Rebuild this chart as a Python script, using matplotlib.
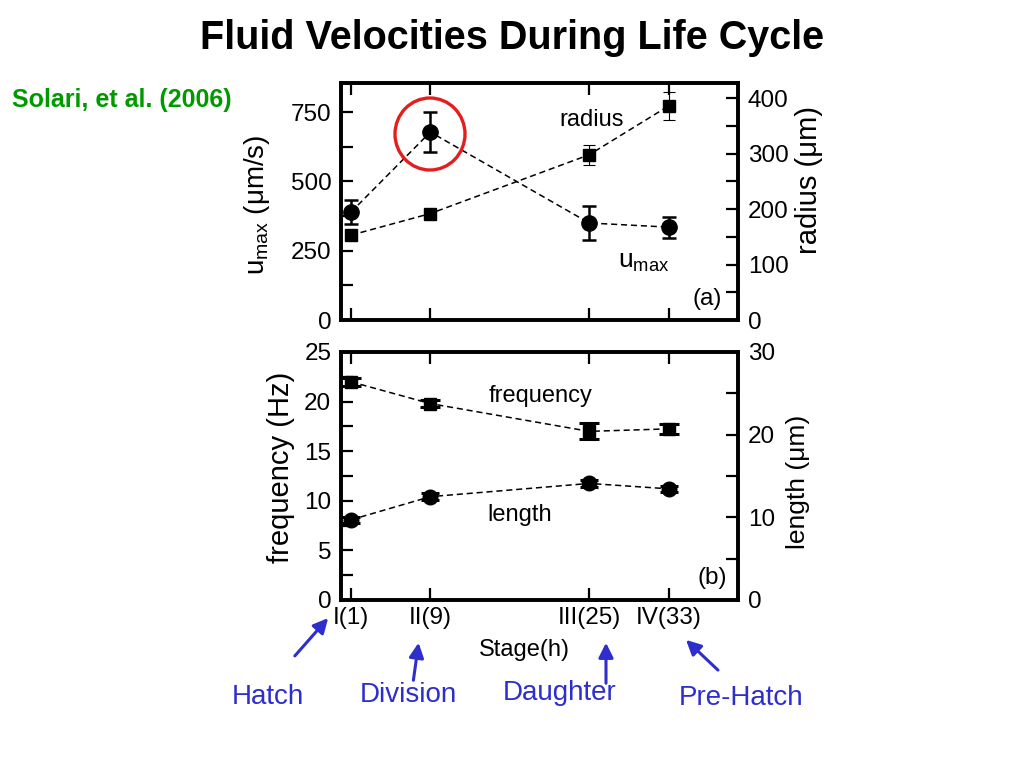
import matplotlib
matplotlib.use("Agg")
import matplotlib.pyplot as plt
from matplotlib.patches import Ellipse, FancyArrowPatch
from matplotlib.ticker import FixedLocator, MultipleLocator

plt.rcParams['font.family'] = ['Liberation Sans', 'DejaVu Sans']
plt.rcParams['mathtext.fontset'] = 'custom'
plt.rcParams['mathtext.rm'] = 'Liberation Sans'
plt.rcParams['mathtext.it'] = 'Liberation Sans:italic'

# ---- data ----
stage_hours = [1, 9, 25, 33]
stage_labels = ['I(1)', 'II(9)', 'III(25)', 'IV(33)']

umax = [389, 678, 350, 335]
umax_err = [43, 73, 60, 38]
radius = [153, 192, 298, 386]
radius_err = [0, 0, 18, 25]

frequency = [22.0, 19.8, 17.0, 17.25]
frequency_err = [0.4, 0.35, 0.8, 0.5]
length = [9.7, 12.5, 14.1, 13.45]
length_err = [0.35, 0.4, 0.45, 0.4]

annot_labels = ['Hatch', 'Division', 'Daughter', 'Pre-Hatch']

W, H = 1024, 768
def fx(x): return x / W
def fy(y): return 1 - y / H

fig = plt.figure(figsize=(10.24, 7.68), dpi=100)

L, R = 341, 738
axA = fig.add_axes([fx(L), fy(320), (R - L) / W, (320 - 83) / H])
axB = fig.add_axes([fx(L), fy(600), (R - L) / W, (600 - 352) / H])

tick_fs = 17.5
def style(ax):
    for s in ax.spines.values():
        s.set_linewidth(2.6)
    ax.tick_params(which='both', direction='in', length=8.5, width=1.6,
                   labelsize=tick_fs, pad=7, top=True)

dash = (0, (4, 2.5))

# ---- panel (a) ----
axA2 = axA.twinx()
for ax in (axA, axA2):
    style(ax)
axA.set_xlim(0, 40)
axA.set_ylim(0, 855)
axA2.set_ylim(0, 427.5)
axA.xaxis.set_major_locator(FixedLocator(stage_hours))
axA.set_xticklabels([])
axA.yaxis.set_major_locator(FixedLocator([0, 250, 500, 750]))
axA.yaxis.set_minor_locator(FixedLocator([125, 375, 625]))
axA2.yaxis.set_major_locator(FixedLocator([0, 100, 200, 300, 400]))
axA2.yaxis.set_minor_locator(FixedLocator([50, 150, 250, 350]))
axA.tick_params(axis='x', which='both', top=True, bottom=True)

axA.errorbar(stage_hours, umax, yerr=umax_err, fmt='o', color='black',
             ms=11, capsize=5, elinewidth=1.8, capthick=1.8, ls=dash, lw=1.1)
axA2.errorbar(stage_hours, radius, yerr=radius_err, fmt='s', color='black',
              ms=8.5, capsize=4.5, elinewidth=0.8, capthick=0.8, ls=dash, lw=1.1)

axA.set_ylabel(r'$\mathrm{u}_{\mathrm{max}}$ (μm/s)', fontsize=20)
axA.yaxis.set_label_coords((272 - L) / (R - L), (320 - 205) / (320 - 83))
axA2.set_ylabel('radius (μm)', fontsize=21)
axA2.yaxis.set_label_coords((795 - L) / (R - L), (320 - 180) / (320 - 83))

# ---- panel (b) ----
axB2 = axB.twinx()
for ax in (axB, axB2):
    style(ax)
axB.set_xlim(0, 40)
axB.set_ylim(0, 25)
axB2.set_ylim(0, 30)
axB.xaxis.set_major_locator(FixedLocator(stage_hours))
axB.set_xticklabels(stage_labels)
axB.tick_params(axis='x', which='both', top=True, bottom=True, pad=5)
axB.yaxis.set_major_locator(MultipleLocator(5))
axB.yaxis.set_minor_locator(MultipleLocator(2.5))
axB2.yaxis.set_major_locator(MultipleLocator(10))
axB2.yaxis.set_minor_locator(MultipleLocator(5))

axB.errorbar(stage_hours, frequency, yerr=frequency_err, fmt='s', color='black',
             ms=9, capsize=7, elinewidth=2.2, capthick=2.2, ls=dash, lw=1.1)
axB2.errorbar(stage_hours, length, yerr=length_err, fmt='o', color='black',
              ms=10.5, capsize=6.5, elinewidth=2.2, capthick=2.2, ls=dash, lw=1.1)

axB.set_ylabel('frequency (Hz)', fontsize=21)
axB.yaxis.set_label_coords((295 - L) / (R - L), (600 - 467) / (600 - 352))
axB2.set_ylabel('length (μm)', fontsize=19)
axB2.yaxis.set_label_coords((786 - L) / (R - L), (600 - 482) / (600 - 352))
axB.set_xlabel('Stage(h)', fontsize=17)
axB.xaxis.set_label_coords((524 - L) / (R - L), (600 - 639) / (600 - 352))

# ---- in-plot labels ----
fig.text(fx(592), fy(120), 'radius', fontsize=17, ha='center', va='center')
fig.text(fx(644), fy(262), r'$\mathrm{u}_{\mathrm{max}}$', fontsize=19, ha='center', va='center')
fig.text(fx(707), fy(299), '(a)', fontsize=17.5, ha='center', va='center')
fig.text(fx(541), fy(396), 'frequency', fontsize=17, ha='center', va='center')
fig.text(fx(520), fy(515), 'length', fontsize=17, ha='center', va='center')
fig.text(fx(712), fy(578), '(b)', fontsize=17.5, ha='center', va='center')

# ---- title & citation ----
fig.text(fx(512), fy(38), 'Fluid Velocities During Life Cycle', fontsize=28.5,
         fontweight='bold', ha='center', va='center')
fig.text(fx(122), fy(100), 'Solari, et al. (2006)', fontsize=18,
         fontweight='bold', color='#009a00', ha='center', va='center')

# ---- red circle around stage II u_max ----
fig.add_artist(Ellipse((fx(430), fy(134)), 70 / W, 72 / H, transform=fig.transFigure,
                       fill=False, edgecolor='#e41e1e', lw=2.4))

# ---- blue stage annotations ----
blue = '#2e2ecc'
text_pos = [(268, 697), (408, 695), (560, 693), (741, 698)]
arrows = [((293, 658), (330, 616)), ((413, 683), (419, 640)),
          ((606, 686), (606, 640)), ((720, 672), (684, 638))]
for lab, (tx, ty), (a, b) in zip(annot_labels, text_pos, arrows):
    fig.text(fx(tx), fy(ty), lab, fontsize=20, color=blue, ha='center', va='center')
    fig.add_artist(FancyArrowPatch((fx(a[0]), fy(a[1])), (fx(b[0]), fy(b[1])),
                                   transform=fig.transFigure, arrowstyle='-|>',
                                   mutation_scale=22, lw=2.2, color=blue))

fig.savefig('out.png', dpi=100)
